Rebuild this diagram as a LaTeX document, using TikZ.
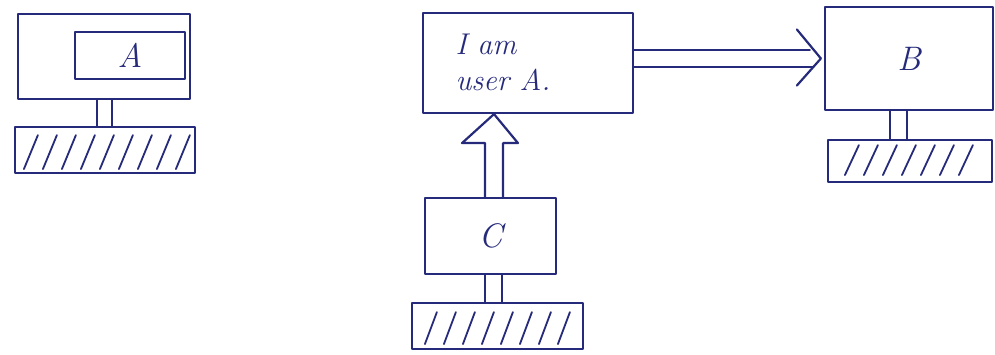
\documentclass[tikz,border=0pt]{standalone}
\usetikzlibrary{calc}
\begin{document}
\begin{tikzpicture}[x=1pt,y=-1pt,
  ink/.style={draw=inkc,line width=2.2pt,line cap=round,line join=round},
  boxs/.style={ink,rectangle,inner sep=0pt},
  basebox/.style={ink,rectangle,inner sep=0pt},
  hatch/.style={draw=inkc,line width=1.8pt,line cap=round},
  lbl/.style={text=inkc,font=\fontsize{34}{38}\selectfont\itshape},
  utxt/.style={text=inkc,font=\fontsize{30}{36}\selectfont\itshape}]
\definecolor{inkc}{HTML}{262A7A}
\useasboundingbox (0,0) rectangle (995,355);
% boxes
\node[boxs,minimum width=172pt,minimum height=85pt] (outA) at (104,56.5) {};
\node[boxs,minimum width=110pt,minimum height=47pt,lbl] (inA) at (130,55.5) {A};
\node[boxs,minimum width=210pt,minimum height=100pt] (ua) at (528,63) {};
\node[utxt,align=left,anchor=west] (uatext) at (452,62) {I am\\user A.};
\node[boxs,minimum width=168pt,minimum height=103pt,lbl] (B) at (909,58.5) {B};
\node[boxs,minimum width=131pt,minimum height=76pt,lbl] (C) at (490.5,236) {C};
% bases
\node[basebox,minimum width=180pt,minimum height=46pt] (baseA) at (105,150) {};
\node[basebox,minimum width=164pt,minimum height=42pt] (baseB) at (910,161) {};
\node[basebox,minimum width=171pt,minimum height=46pt] (baseC) at (497.5,326) {};
% stands
\draw[ink] ([xshift=-7pt]outA.south) -- ([xshift=-7pt]outA.south |- baseA.north);
\draw[ink] ([xshift=8pt]outA.south) -- ([xshift=8pt]outA.south |- baseA.north);
\draw[ink] ([xshift=-19pt]B.south) -- ([xshift=-19pt]B.south |- baseB.north);
\draw[ink] ([xshift=-2pt]B.south) -- ([xshift=-2pt]B.south |- baseB.north);
\draw[ink] ([xshift=-5.5pt]C.south) -- ([xshift=-5.5pt]C.south |- baseC.north);
\draw[ink] ([xshift=11.5pt]C.south) -- ([xshift=11.5pt]C.south |- baseC.north);
% hatching
\foreach \i in {0,...,8}
  \draw[hatch] ($(baseA.south west)+({10+\i*19},-5)$) -- ++(14,-34);
\foreach \i in {0,...,6}
  \draw[hatch] ($(baseB.south west)+({18+\i*19},-8)$) -- ++(14,-30);
\foreach \i in {0,...,7}
  \draw[hatch] ($(baseC.south west)+({14+\i*19},-6)$) -- ++(12,-32);
% double arrow user A -> B
\coordinate (tipR) at ([xshift=-3pt]B.west);
\draw[ink] ([yshift=13pt]ua.east) -- ($([yshift=13pt]ua.east -| tipR)+(-11,0)$);
\draw[ink] ([yshift=-4pt]ua.east) -- ($([yshift=-4pt]ua.east -| tipR)+(-8,0)$);
\draw[ink] ($(tipR)+(-24,-29)$) -- (tipR) -- ($(tipR)+(-24,27)$);
% double arrow C -> user A
\coordinate (tipU) at ([xshift=3.5pt]C.north |- ua.south);
\draw[ink] ([xshift=-5.5pt]C.north) -- ($([xshift=-5.5pt]C.north |- ua.south)+(0,29)$) -- ++(-23,0) -- (tipU) -- ($(tipU)+(24,29)$) -- ($(tipU)+(9,29)$) -- ([xshift=12.5pt]C.north);
\end{tikzpicture}
\end{document}
